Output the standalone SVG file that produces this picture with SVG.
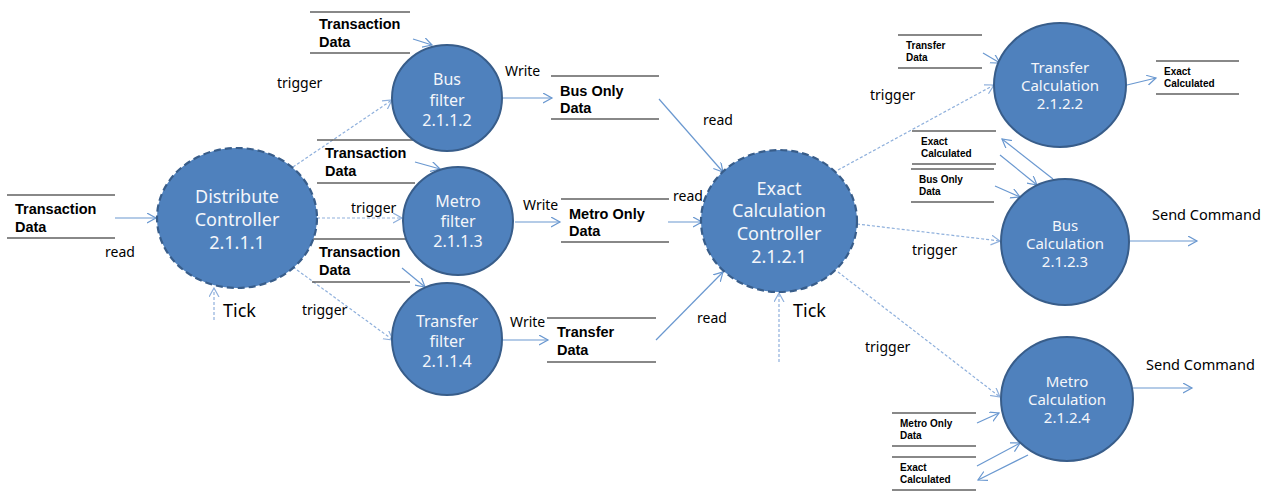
<svg xmlns="http://www.w3.org/2000/svg" width="1268" height="492" viewBox="0 0 1268 492">
<defs>
<style>
.proc{fill:#4f81bd;stroke:#385d8a;stroke-width:2}
.ctrl{fill:#4f81bd;stroke:#385d8a;stroke-width:2.2;stroke-dasharray:7 4}
.ptxt{fill:#f4f6fa;font-family:"Noto Sans",sans-serif;text-anchor:middle}
.store{stroke:#606060;stroke-width:1.5}
.stxt{fill:#000;font-family:"Liberation Sans",Arial,sans-serif;font-weight:bold;font-size:14.5px}
.sstxt{fill:#000;font-family:"Liberation Sans",Arial,sans-serif;font-weight:bold;font-size:10px}
.lbl{fill:#000;font-family:"Noto Sans",sans-serif;font-size:14px}
.big{fill:#000;font-family:"Noto Sans",sans-serif;font-size:18px}
.flow{stroke:#6a98d0;stroke-width:1.2;fill:none;marker-end:url(#ah)}
.trig{stroke:#8fb0dc;stroke-width:1.2;fill:none;stroke-dasharray:3 2;marker-end:url(#ahd)}
</style>
<marker id="ah" markerWidth="12" markerHeight="12" refX="9" refY="5" orient="auto" markerUnits="userSpaceOnUse">
<path d="M0,0 L9,5 L0,10" fill="none" stroke="#6a98d0" stroke-width="1.2"/>
</marker>
<marker id="ahd" markerWidth="12" markerHeight="12" refX="9" refY="5" orient="auto" markerUnits="userSpaceOnUse">
<path d="M0,0 L9,5 L0,10" fill="none" stroke="#8fb0dc" stroke-width="1.2"/>
</marker>
</defs>
<rect width="1268" height="492" fill="#fff"/>

<g id="connectors">
<line class="flow" x1="115" y1="218" x2="156" y2="218"/>
<line class="trig" x1="293" y1="167" x2="392" y2="100"/>
<line class="trig" x1="317" y1="218" x2="402" y2="218"/>
<line class="trig" x1="293" y1="267" x2="393" y2="340"/>
<line class="trig" x1="214" y1="320" x2="214" y2="288"/>
<line class="flow" x1="413" y1="39" x2="432" y2="45"/>
<line class="flow" x1="415" y1="162" x2="440" y2="169"/>
<line class="flow" x1="402" y1="268" x2="425" y2="287"/>
<line class="flow" x1="502" y1="98" x2="552" y2="98"/>
<line class="flow" x1="515" y1="222" x2="560" y2="222"/>
<line class="flow" x1="502" y1="340" x2="548" y2="340"/>
<line class="flow" x1="659" y1="99" x2="723" y2="172"/>
<line class="flow" x1="668" y1="222" x2="702" y2="222"/>
<line class="flow" x1="656" y1="340" x2="723" y2="272"/>
<line class="trig" x1="779" y1="362" x2="779" y2="293"/>
<line class="trig" x1="838" y1="170" x2="994" y2="85"/>
<line class="trig" x1="857" y1="224" x2="1000" y2="241"/>
<line class="trig" x1="838" y1="272" x2="1000" y2="397"/>
<line class="flow" x1="983" y1="53" x2="1000" y2="63"/>
<line class="flow" x1="1127" y1="85" x2="1156" y2="78"/>
<line class="flow" x1="1053" y1="179" x2="1002" y2="139"/>
<line class="flow" x1="1000" y1="155" x2="1037" y2="185"/>
<line class="flow" x1="995" y1="186" x2="1020" y2="197"/>
<line class="flow" x1="1130" y1="241" x2="1197" y2="241"/>
<line class="flow" x1="1133" y1="388" x2="1192" y2="388"/>
<line class="flow" x1="977" y1="423" x2="999" y2="413"/>
<line class="flow" x1="977" y1="466" x2="1020" y2="443"/>
<line class="flow" x1="1028" y1="455" x2="978" y2="480"/>
</g>

<g id="labels">
<text class="lbl" x="105" y="257">read</text>
<text class="lbl" x="277" y="88">trigger</text>
<text class="lbl" x="351" y="213">trigger</text>
<text class="lbl" x="302" y="315">trigger</text>
<text class="big" x="223" y="317">Tick</text>
<text class="lbl" x="505" y="76">Write</text>
<text class="lbl" x="523" y="210">Write</text>
<text class="lbl" x="510" y="327">Write</text>
<text class="lbl" x="703" y="125">read</text>
<text class="lbl" x="673" y="201">read</text>
<text class="lbl" x="697" y="323">read</text>
<text class="big" x="793" y="317">Tick</text>
<text class="lbl" x="870" y="100">trigger</text>
<text class="lbl" x="912" y="255">trigger</text>
<text class="lbl" x="865" y="352">trigger</text>
<text class="lbl" x="1152" y="220" style="font-size:14.5px">Send Command</text>
<text class="lbl" x="1146" y="370" style="font-size:14.5px">Send Command</text>
</g>

<g id="store-td-left">
<line class="store" x1="7" y1="195" x2="115" y2="195"/>
<line class="store" x1="7" y1="238" x2="115" y2="238"/>
<text class="stxt" x="15" y="214">Transaction</text>
<text class="stxt" x="15" y="232">Data</text>
</g>
<g id="store-td-1">
<line class="store" x1="310" y1="12" x2="410" y2="12"/>
<line class="store" x1="310" y1="53" x2="410" y2="53"/>
<text class="stxt" x="319" y="29">Transaction</text>
<text class="stxt" x="319" y="47">Data</text>
</g>
<g id="store-td-2">
<line class="store" x1="317" y1="140" x2="413" y2="140"/>
<line class="store" x1="317" y1="183" x2="415" y2="183"/>
<text class="stxt" x="325" y="158">Transaction</text>
<text class="stxt" x="325" y="176">Data</text>
</g>
<g id="store-td-3">
<line class="store" x1="312" y1="239" x2="408" y2="239"/>
<line class="store" x1="312" y1="282" x2="410" y2="282"/>
<text class="stxt" x="319" y="257">Transaction</text>
<text class="stxt" x="319" y="275">Data</text>
</g>
<g id="store-busonly">
<line class="store" x1="551" y1="76" x2="659" y2="76"/>
<line class="store" x1="551" y1="119" x2="659" y2="119"/>
<text class="stxt" x="560" y="96">Bus Only</text>
<text class="stxt" x="560" y="113">Data</text>
</g>
<g id="store-metroonly">
<line class="store" x1="561" y1="199" x2="669" y2="199"/>
<line class="store" x1="561" y1="242" x2="669" y2="242"/>
<text class="stxt" x="569" y="219">Metro Only</text>
<text class="stxt" x="569" y="236">Data</text>
</g>
<g id="store-transfer">
<line class="store" x1="547" y1="318" x2="656" y2="318"/>
<line class="store" x1="547" y1="362" x2="656" y2="362"/>
<text class="stxt" x="557" y="337">Transfer</text>
<text class="stxt" x="557" y="355">Data</text>
</g>
<g id="store-transfer-small">
<line class="store" x1="898" y1="35" x2="982" y2="35"/>
<line class="store" x1="898" y1="68" x2="982" y2="68"/>
<text class="sstxt" x="906" y="49">Transfer</text>
<text class="sstxt" x="906" y="61">Data</text>
</g>
<g id="store-exact-1">
<line class="store" x1="1156" y1="61" x2="1239" y2="61"/>
<line class="store" x1="1156" y1="94" x2="1239" y2="94"/>
<text class="sstxt" x="1164" y="75">Exact</text>
<text class="sstxt" x="1164" y="87">Calculated</text>
</g>
<g id="store-exact-2">
<line class="store" x1="912" y1="131" x2="996" y2="131"/>
<line class="store" x1="912" y1="164" x2="996" y2="164"/>
<text class="sstxt" x="921" y="145">Exact</text>
<text class="sstxt" x="921" y="157">Calculated</text>
</g>
<g id="store-busonly-small">
<line class="store" x1="911" y1="169" x2="994" y2="169"/>
<line class="store" x1="911" y1="202" x2="994" y2="202"/>
<text class="sstxt" x="919" y="183">Bus Only</text>
<text class="sstxt" x="919" y="195">Data</text>
</g>
<g id="store-metroonly-small">
<line class="store" x1="892" y1="413" x2="976" y2="413"/>
<line class="store" x1="892" y1="446" x2="976" y2="446"/>
<text class="sstxt" x="900" y="427">Metro Only</text>
<text class="sstxt" x="900" y="439">Data</text>
</g>
<g id="store-exact-3">
<line class="store" x1="892" y1="457" x2="976" y2="457"/>
<line class="store" x1="892" y1="490" x2="976" y2="490"/>
<text class="sstxt" x="900" y="471">Exact</text>
<text class="sstxt" x="900" y="483">Calculated</text>
</g>

<g id="distribute-controller">
<ellipse class="ctrl" cx="237" cy="218" rx="80" ry="70"/>
<text class="ptxt" x="237" y="203" font-size="18">Distribute</text>
<text class="ptxt" x="237" y="226" font-size="18">Controller</text>
<text class="ptxt" x="237" y="249" font-size="18">2.1.1.1</text>
</g>
<g id="bus-filter">
<ellipse class="proc" cx="447" cy="98" rx="55" ry="53"/>
<text class="ptxt" x="447" y="85" font-size="16">Bus</text>
<text class="ptxt" x="447" y="106" font-size="16">filter</text>
<text class="ptxt" x="447" y="126" font-size="16">2.1.1.2</text>
</g>
<g id="metro-filter">
<ellipse class="proc" cx="458" cy="221" rx="55" ry="54"/>
<text class="ptxt" x="458" y="207" font-size="16">Metro</text>
<text class="ptxt" x="458" y="227" font-size="16">filter</text>
<text class="ptxt" x="458" y="247" font-size="16">2.1.1.3</text>
</g>
<g id="transfer-filter">
<ellipse class="proc" cx="447" cy="339" rx="55" ry="56"/>
<text class="ptxt" x="447" y="327" font-size="16">Transfer</text>
<text class="ptxt" x="447" y="347" font-size="16">filter</text>
<text class="ptxt" x="447" y="367" font-size="16">2.1.1.4</text>
</g>
<g id="exact-controller">
<ellipse class="ctrl" cx="779" cy="221" rx="78" ry="71"/>
<text class="ptxt" x="779" y="195" font-size="18">Exact</text>
<text class="ptxt" x="779" y="217" font-size="18">Calculation</text>
<text class="ptxt" x="779" y="240" font-size="18">Controller</text>
<text class="ptxt" x="779" y="263" font-size="18">2.1.2.1</text>
</g>
<g id="transfer-calculation">
<ellipse class="proc" cx="1060" cy="85" rx="66" ry="62"/>
<text class="ptxt" x="1060" y="73" font-size="15">Transfer</text>
<text class="ptxt" x="1060" y="91" font-size="15">Calculation</text>
<text class="ptxt" x="1060" y="109" font-size="15">2.1.2.2</text>
</g>
<g id="bus-calculation">
<ellipse class="proc" cx="1065" cy="242" rx="64" ry="63"/>
<text class="ptxt" x="1065" y="231" font-size="15">Bus</text>
<text class="ptxt" x="1065" y="249" font-size="15">Calculation</text>
<text class="ptxt" x="1065" y="267" font-size="15">2.1.2.3</text>
</g>
<g id="metro-calculation">
<ellipse class="proc" cx="1067" cy="399" rx="66" ry="62"/>
<text class="ptxt" x="1067" y="387" font-size="15">Metro</text>
<text class="ptxt" x="1067" y="405" font-size="15">Calculation</text>
<text class="ptxt" x="1067" y="423" font-size="15">2.1.2.4</text>
</g>
</svg>
